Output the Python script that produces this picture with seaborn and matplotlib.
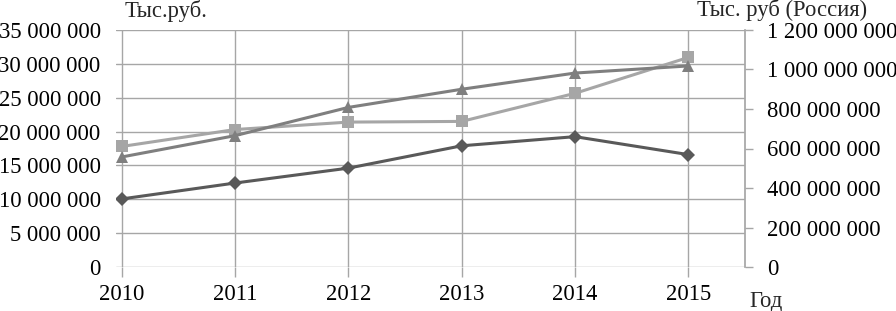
import matplotlib
matplotlib.use('Agg')
import matplotlib.pyplot as plt
import matplotlib.ticker as mticker
import seaborn as sns
import pandas as pd

years = [2010, 2011, 2012, 2013, 2014, 2015]
# левая ось, тыс. руб.
diamonds = [10050000, 12400000, 14600000, 17900000, 19250000, 16600000]
squares = [17800000, 20300000, 21400000, 21500000, 25650000, 30950000]
# правая ось, тыс. руб (Россия)
triangles = [557000000, 665000000, 808000000, 900000000, 982000000, 1018000000]

left_ticks = [0, 5000000, 10000000, 15000000, 20000000, 25000000, 30000000, 35000000]
right_ticks = [0, 200000000, 400000000, 600000000, 800000000, 1000000000, 1200000000]

sns.set_theme(style="white")
plt.rcParams['font.family'] = ['Liberation Serif', 'DejaVu Serif']
FS = 16.3

df = pd.DataFrame({'year': years, 'd': diamonds, 's': squares, 't': triangles})

fig = plt.figure(figsize=(8.96, 3.11), dpi=100)
ax = fig.add_axes([116 / 896, 1 - 267 / 311, (745 - 116) / 896, (267 - 30) / 311])
ax2 = ax.twinx()

sns.lineplot(data=df, x='year', y='s', ax=ax, color='#a6a6a6', lw=2.2,
             marker='s', markersize=8, markeredgewidth=0, zorder=3)
sns.lineplot(data=df, x='year', y='d', ax=ax, color='#595959', lw=2.2,
             marker='D', markersize=7, markeredgewidth=0, zorder=3)
sns.lineplot(data=df, x='year', y='t', ax=ax2, color='#7f7f7f', lw=2.2,
             marker='^', markersize=9, markeredgewidth=0, zorder=3)

ax.set_xlim(2009.95, 2015.5)
ax.set_ylim(0, 35000000)
ax2.set_ylim(0, 1200000000)
ax.set_xticks(years)
ax.set_yticks(left_ticks)
ax2.set_yticks(right_ticks)

fmt = mticker.FuncFormatter(lambda v, p: f"{int(v):,}".replace(',', ' '))
ax.yaxis.set_major_formatter(fmt)
ax2.yaxis.set_major_formatter(fmt)

ax.grid(True, color='#a6a6a6', lw=1)
ax.set_axisbelow(True)
for a in (ax, ax2):
    for s in a.spines.values():
        s.set_visible(False)
ax2.spines['right'].set_visible(True)
ax2.spines['right'].set_color('#a6a6a6')

ax.tick_params(axis='x', length=7, width=1, color='#a6a6a6', direction='out',
               labelsize=FS, pad=5, labelcolor='black', bottom=True)
ax.tick_params(axis='y', length=0, labelsize=FS, pad=11, labelcolor='black')
ax2.tick_params(axis='y', length=6, width=1, color='#a6a6a6', labelsize=FS,
                pad=10, labelcolor='black', right=True)
ax.set_xlabel('')
ax.set_ylabel('')
ax2.set_ylabel('')

fig.text(125 / 896, 1 - 17 / 311, 'Тыс.руб.', fontsize=FS, va='baseline', ha='left')
fig.text(697 / 896, 1 - 16 / 311, 'Тыс. руб (Россия)', fontsize=FS, va='baseline', ha='left')
fig.text(749 / 896, 1 - 307 / 311, 'Год', fontsize=FS, va='baseline', ha='left')

fig.savefig('out.png', dpi=100)
